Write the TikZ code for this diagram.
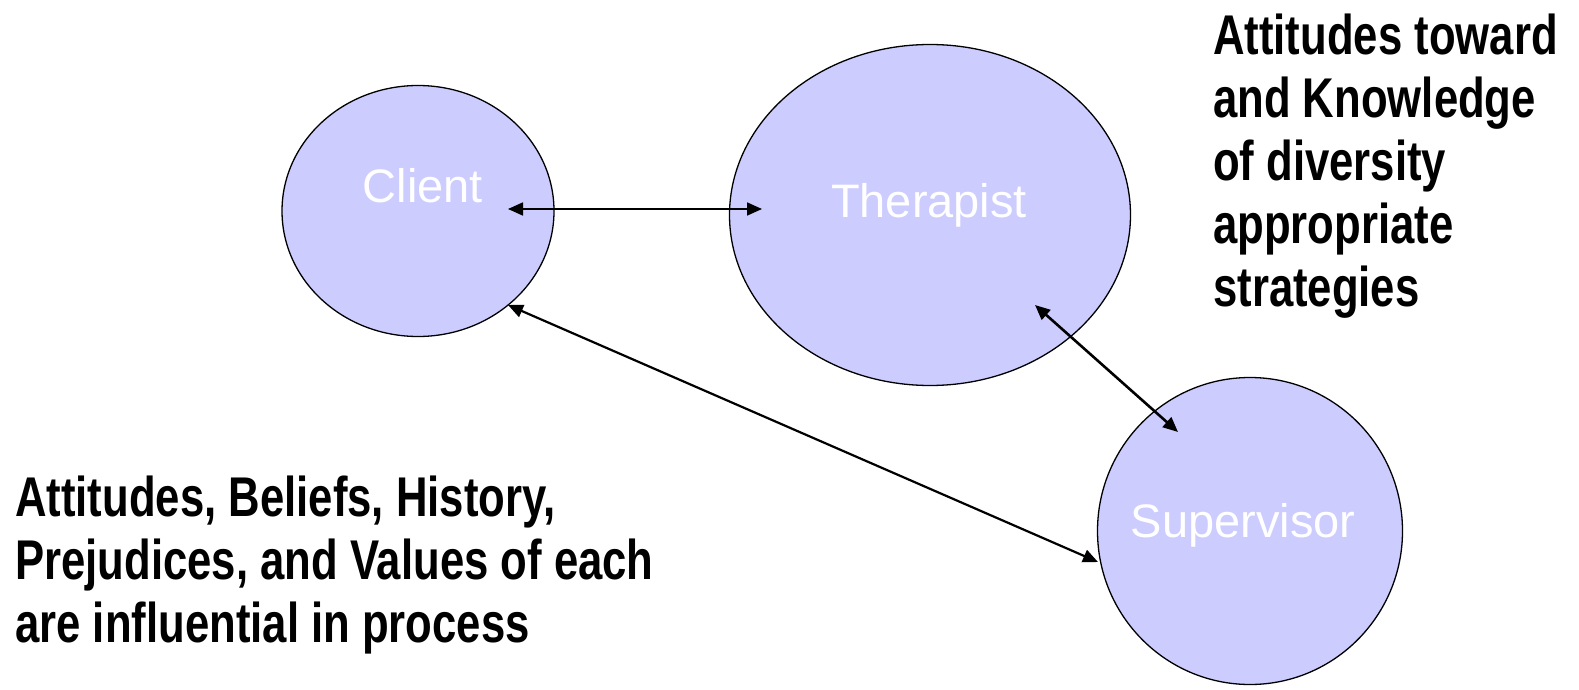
\documentclass[tikz,border=0pt]{standalone}
\usepackage{fontspec}
\setmainfont{Liberation Sans}
\newfontfamily\notefont[FakeStretch=0.78]{Liberation Sans Bold}
\usepackage{tikz}
\usetikzlibrary{arrows.meta, shapes.geometric}
\usepackage{xcolor}
\definecolor{bubble}{HTML}{CCCCFF}

\begin{document}
\begin{tikzpicture}[x=1pt, y=-1pt, >={Triangle[length=15pt, width=13pt]},
  person/.style={ellipse, draw, fill=bubble, line width=1.3pt, inner sep=0pt},
  personlabel/.style={anchor=base, text=white, font=\fontsize{47}{56}\selectfont},
  notetext/.style={anchor=north west, inner sep=0pt, align=left,
    font=\notefont\fontsize{56}{63}\selectfont}]
  \useasboundingbox (0,0) rectangle (1579,690);

  % The three people
  \node[person, minimum width=272pt, minimum height=251pt] (client) at (418,211) {};
  \node[person, minimum width=401pt, minimum height=341pt] (therapist) at (930,215) {};
  \node[person, minimum width=305pt, minimum height=307pt] (supervisor) at (1250,531) {};

  % Labels inside
  \node[personlabel] (clientname) at (423,202) {Client};
  \node[personlabel] (therapistname) at (929,217) {Therapist};
  \node[personlabel] (supervisorname) at (1243,537) {Supervisor};

  % Arrow ends
  \coordinate (ct) at (508,209);
  \coordinate (tc) at (762,209);
  \coordinate (cs) at (508,305);
  \coordinate (sc) at (1098,562);
  \coordinate (ts) at (1035,305);
  \coordinate (st) at (1178,432);

  % Connections
  \draw[<->, line width=1.8pt] (ct) -- (tc);
  \draw[<->, line width=2.2pt] (cs) -- (sc);
  \draw[<->, line width=2.6pt] (ts) -- (st);

  % Notes
  \node[notetext] (knowledge) at (1213,14) {Attitudes toward\\and Knowledge\\of diversity\\appropriate\\strategies};
  \node[notetext] (beliefs) at (15,476) {Attitudes, Beliefs, History,\\Prejudices, and Values of each\\are influential in process};
\end{tikzpicture}
\end{document}
